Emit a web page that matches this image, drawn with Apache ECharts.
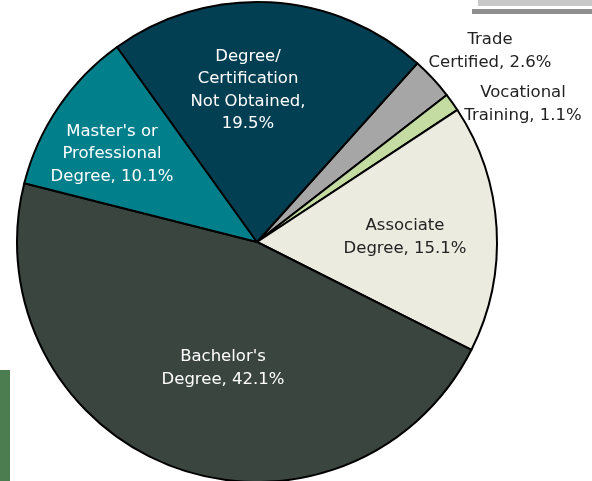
<!DOCTYPE html>
<html style="width:100%;height:100%;">
<head>
	<meta charset="UTF-8">
	<title>Education pie</title>
	<script src="https://cdn.jsdelivr.net/npm/echarts@6/dist/echarts.min.js"></script>
</head>
<body style="width:100%;height:100%;margin:0;padding:0;background:#fff;">
	<div id="main" style="width:592px;height:481px;"></div>
	<script>
		// 数据
		var categories = ['Trade\nCertified', 'Vocational\nTraining', 'Associate\nDegree', "Bachelor's\nDegree", "Master's or\nProfessional\nDegree", 'Degree/\nCertification\nNot Obtained,\n'];
		var values = [2.6, 1.1, 15.1, 42.1, 10.1, 19.5];
		var colors = ['#a6a6a6', '#c4dca2', '#ecebe0', '#3a4540', '#017f8b', '#023f52'];
		var textColors = ['#222', '#222', '#222', '#fff', '#fff', '#fff'];
		// 标签位置
		var labelPos = [[490, 51], [523, 104], [405, 237], [223, 368], [112, 154], [248, 90]];

		var myChart = echarts.init(document.getElementById('main'));
		var option = {
			animation: false,
			graphic: [
				{ type: 'rect', shape: { x: 0, y: 370, width: 10, height: 111 }, style: { fill: '#4c7d50' } },
				{ type: 'rect', shape: { x: 472, y: 9, width: 120, height: 5 }, style: { fill: '#8f8f8f' } },
				{ type: 'rect', shape: { x: 478, y: 0, width: 114, height: 6 }, style: { fill: '#c8c8c8' } }
			],
			series: [{
				type: 'pie',
				center: [257, 242],
				radius: 240,
				startAngle: 48.1,
				clockwise: true,
				data: values.map(function(v, i) {
					return {
						name: categories[i],
						value: v,
						itemStyle: { color: colors[i] },
						label: { color: textColors[i] }
					};
				}),
				itemStyle: {
					borderColor: '#000',
					borderWidth: 2
				},
				label: {
					show: true,
					position: 'inside',
					fontFamily: 'DejaVu Sans',
					fontSize: 16.5,
					lineHeight: 22.5,
					align: 'center',
					formatter: function(p) {
						var n = p.name;
						if (n.charAt(n.length - 1) === '\n') return n + p.value + '%';
						return n + ', ' + p.value + '%';
					}
				},
				labelLine: { show: false },
				labelLayout: function(params) {
					var pos = labelPos[params.dataIndex];
					return { x: pos[0], y: pos[1], align: 'center', verticalAlign: 'middle' };
				}
			}]
		};
		myChart.setOption(option);
	</script>
</body>
</html>
